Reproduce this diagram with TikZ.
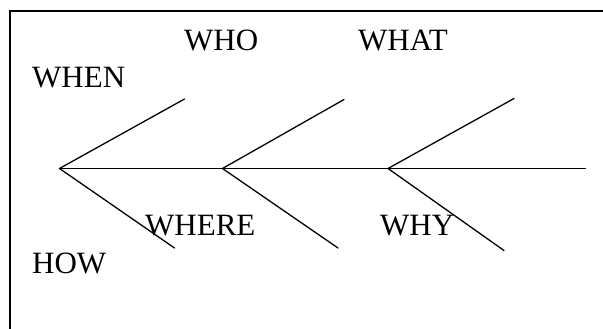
\documentclass[tikz,border=0pt]{standalone}
\usepackage{fontspec}
\setmainfont{Liberation Serif}
\begin{document}
\begin{tikzpicture}[x=1pt,y=-1pt,
  lbl/.style={anchor=base west,inner sep=0pt,font=\fontsize{31}{31}\selectfont},
  bone/.style={line width=1.3pt,line cap=round}]
\useasboundingbox (0,0) rectangle (603,329);
% frame
\draw[line width=2pt] (10,340) -- (10,11.5) -- (615,11.5);
% spine coordinates
\coordinate (v1) at (59.5,168.5);
\coordinate (v2) at (222.5,168.5);
\coordinate (v3) at (388,168.5);
\coordinate (e0) at (585.5,168.5);
\coordinate (u1) at (184.5,99);
\coordinate (d1) at (174.5,248);
\coordinate (u2) at (344,99.5);
\coordinate (d2) at (338,248);
\coordinate (u3) at (514,98.5);
\coordinate (d3) at (504,250.5);
\draw[bone] (v1) -- (e0);
\draw[bone] (v1) -- (u1);
\draw[bone] (v1) -- (d1);
\draw[bone] (v2) -- (u2);
\draw[bone] (v2) -- (d2);
\draw[bone] (v3) -- (u3);
\draw[bone] (v3) -- (d3);
% labels
\node[lbl] (when) at (32,87.5) {WHEN};
\node[lbl] (who) at (184,50.5) {WHO};
\node[lbl] (what) at (358,50.5) {WHAT};
\node[lbl] (where) at (145,235) {WHERE};
\node[lbl] (why) at (380,235) {WHY};
\node[lbl] (how) at (32,273) {HOW};
\end{tikzpicture}
\end{document}
